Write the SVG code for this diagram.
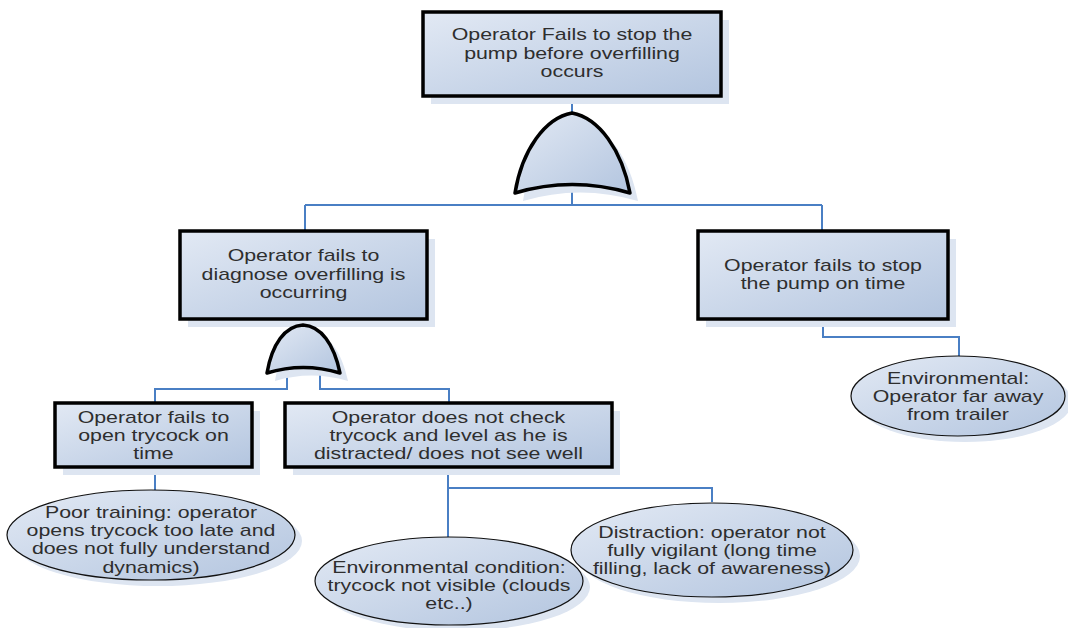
<svg xmlns="http://www.w3.org/2000/svg" width="1068" height="628" viewBox="0 0 1068 628">
<defs>
<linearGradient id="fillg" x1="0" y1="0" x2="1" y2="1">
<stop offset="0" stop-color="#e2e9f4"/>
<stop offset="1" stop-color="#b3c5df"/>
</linearGradient>
<style>
.box{fill:url(#fillg);stroke:#000;stroke-width:3.5}
.ell{fill:url(#fillg);stroke:#111;stroke-width:1.2}
.gate{fill:url(#fillg);stroke:#000;stroke-width:3.5;stroke-linejoin:round}
.sh{fill:#dde5f1;stroke:none}
.conn{fill:none;stroke:#4a7fc4;stroke-width:2}
.t{font-family:"Liberation Sans",Arial,sans-serif;font-size:16.8px;fill:#2e2e2e;text-anchor:middle}
</style>
</defs>
<rect width="1068" height="628" fill="#fff"/>
<g id="connectors">
<path class="conn" d="M572,96 V114"/>
<path class="conn" d="M572,182 V205 M305,205 H822 M305,205 V231 M822,205 V231"/>
<path class="conn" d="M303,319 V326"/>
<path class="conn" d="M287,368 V389 H155 V403 M320,368 V389 H449 V403"/>
<path class="conn" d="M823,319 V337 H959 V357"/>
<path class="conn" d="M155,467 V490"/>
<path class="conn" d="M448,467 V538 M448,488 H712 V502"/>
</g>
<g id="top-event">
<rect class="sh" x="431" y="20" width="298" height="84"/>
<rect class="box" x="423" y="12" width="298" height="84"/>
<text class="t" transform="translate(572,0) scale(1.27,1)"><tspan x="0" y="40">Operator Fails to stop the</tspan><tspan x="0" y="59">pump before overfilling</tspan><tspan x="0" y="77">occurs</tspan></text>
</g>
<g id="or-gate-1">
<path class="sh" d="M523,201 C530,158 553,126 580,121 C607,126 630,158 638,201 Q580,184 523,201 Z"/>
<path class="gate" d="M515,193 C522,150 545,118 572,113 C599,118 622,150 630,193 Q572,176 515,193 Z"/>
</g>
<g id="diagnose">
<rect class="sh" x="188" y="239" width="247" height="88"/>
<rect class="box" x="180" y="231" width="247" height="88"/>
<text class="t" transform="translate(303.5,0) scale(1.27,1)"><tspan x="0" y="261">Operator fails to</tspan><tspan x="0" y="280">diagnose overfilling is</tspan><tspan x="0" y="298">occurring</tspan></text>
</g>
<g id="stop-on-time">
<rect class="sh" x="706" y="239" width="250" height="88"/>
<rect class="box" x="698" y="231" width="250" height="88"/>
<text class="t" transform="translate(823,0) scale(1.27,1)"><tspan x="0" y="271">Operator fails to stop</tspan><tspan x="0" y="289">the pump on time</tspan></text>
</g>
<g id="or-gate-2">
<path class="sh" d="M275,381 C280,352 293,334 311,333 C329,334 342,352 348,381 Q311,370 275,381 Z"/>
<path class="gate" d="M267,373 C272,344 285,326 303,325 C321,326 334,344 340,373 Q303,362 267,373 Z"/>
</g>
<g id="open-trycock">
<rect class="sh" x="63" y="411" width="197" height="64"/>
<rect class="box" x="55" y="403" width="197" height="64"/>
<text class="t" transform="translate(153.5,0) scale(1.27,1)"><tspan x="0" y="423">Operator fails to</tspan><tspan x="0" y="441">open trycock on</tspan><tspan x="0" y="459">time</tspan></text>
</g>
<g id="not-check">
<rect class="sh" x="293" y="411" width="327" height="64"/>
<rect class="box" x="285" y="403" width="327" height="64"/>
<text class="t" transform="translate(448.5,0) scale(1.27,1)"><tspan x="0" y="423">Operator does not check</tspan><tspan x="0" y="441">trycock and level as he is</tspan><tspan x="0" y="459">distracted/ does not see well</tspan></text>
</g>
<g id="env-far-away">
<ellipse class="sh" cx="965" cy="402" rx="107" ry="40"/>
<ellipse class="ell" cx="958" cy="396" rx="107" ry="40"/>
<text class="t" transform="translate(958,0) scale(1.27,1)"><tspan x="0" y="384">Environmental:</tspan><tspan x="0" y="402">Operator far away</tspan><tspan x="0" y="420">from trailer</tspan></text>
</g>
<g id="poor-training">
<ellipse class="sh" cx="158" cy="541" rx="144" ry="45"/>
<ellipse class="ell" cx="151" cy="535" rx="144" ry="45"/>
<text class="t" transform="translate(151,0) scale(1.27,1)"><tspan x="0" y="518">Poor training: operator</tspan><tspan x="0" y="536">opens trycock too late and</tspan><tspan x="0" y="554">does not fully understand</tspan><tspan x="0" y="573">dynamics)</tspan></text>
</g>
<g id="env-condition">
<ellipse class="sh" cx="456" cy="587" rx="134" ry="44"/>
<ellipse class="ell" cx="449" cy="581" rx="134" ry="44"/>
<text class="t" transform="translate(449,0) scale(1.27,1)"><tspan x="0" y="573">Environmental condition:</tspan><tspan x="0" y="591">trycock not visible (clouds</tspan><tspan x="0" y="609">etc..)</tspan></text>
</g>
<g id="distraction">
<ellipse class="sh" cx="719" cy="556" rx="141" ry="47"/>
<ellipse class="ell" cx="712" cy="550" rx="141" ry="47"/>
<text class="t" transform="translate(712,0) scale(1.27,1)"><tspan x="0" y="538">Distraction: operator not</tspan><tspan x="0" y="556">fully vigilant (long time</tspan><tspan x="0" y="574">filling, lack of awareness)</tspan></text>
</g>
</svg>
